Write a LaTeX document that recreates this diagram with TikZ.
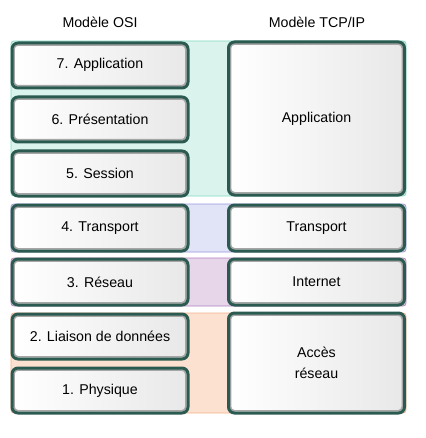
\documentclass[tikz,border=0pt]{standalone}
\usepackage{fontspec}
\setmainfont{Liberation Sans}
\definecolor{boxline}{RGB}{42,90,80}
\definecolor{greenfill}{RGB}{218,243,236}
\definecolor{greenline}{RGB}{130,218,196}
\definecolor{bluefill}{RGB}{225,227,246}
\definecolor{blueline}{RGB}{150,150,222}
\definecolor{purplefill}{RGB}{231,214,234}
\definecolor{purpleline}{RGB}{176,128,192}
\definecolor{orangefill}{RGB}{253,225,208}
\definecolor{orangeline}{RGB}{245,176,140}
\begin{document}
\begin{tikzpicture}[x=1pt, y=-1pt,
    band/.style={rectangle, rounded corners=3pt, line width=0.8pt, minimum width=395pt, inner sep=0pt},
    layer/.style={rectangle, rounded corners=6pt, draw=boxline, line width=3pt,
        left color=white, right color=black!9, minimum width=176pt, inner sep=0pt, align=center,
        font=\fontsize{14.2}{21.5}\selectfont,
        path picture={\draw[black!35, line width=1.6pt, rounded corners=4pt]
            ([shift={(2pt,-2pt)}]path picture bounding box.north west) rectangle
            ([shift={(-2.2pt,2.2pt)}]path picture bounding box.south east);}}]
    \useasboundingbox (0,0) rectangle (425,438);

    \node (OSI) at (100, 22) {\fontsize{14.2}{17}\selectfont Modèle OSI};
    \node (TCP) at (317, 22) {\fontsize{14.2}{17}\selectfont Modèle TCP/IP};

    %-----

    \node (GA) at (208.5, 118.5) [band, fill=greenfill, draw=greenline, minimum height=155pt] {};
    \node (GT) at (208.5, 228) [band, fill=bluefill, draw=blueline, minimum height=48pt] {};
    \node (GI) at (208.5, 282) [band, fill=purplefill, draw=purpleline, minimum height=48pt] {};
    \node (GN) at (208.5, 363) [band, fill=orangefill, draw=orangeline, minimum height=100pt] {};

    %-----

    \node (L7) at (100, 65.5) [layer, minimum height=45pt] {\raisebox{5pt}{7. Application}};
    \node (L6) at (100, 119.5) [layer, minimum height=45pt] {6. Présentation};
    \node (L5) at (100, 173.5) [layer, minimum height=45pt] {5. Session};
    \node (L4) at (100, 228) [layer, minimum height=46pt] {4. Transport};
    \node (L3) at (100, 282) [layer, minimum height=46pt] {3. Réseau};
    \node (L2) at (100, 336.5) [layer, minimum height=45pt] {2. Liaison de données};
    \node (L1) at (100, 390.5) [layer, minimum height=45pt] {1. Physique};

    %-----

    \node (TA) at (316.5, 118.5) [layer, minimum height=153pt] {Application};
    \node (TT) at (316.5, 228) [layer, minimum height=46pt] {Transport};
    \node (TI) at (316.5, 282) [layer, minimum height=46pt] {Internet};
    \node (TN) at (316.5, 363) [layer, minimum height=100pt] {Accès\\réseau};
\end{tikzpicture}
\end{document}
